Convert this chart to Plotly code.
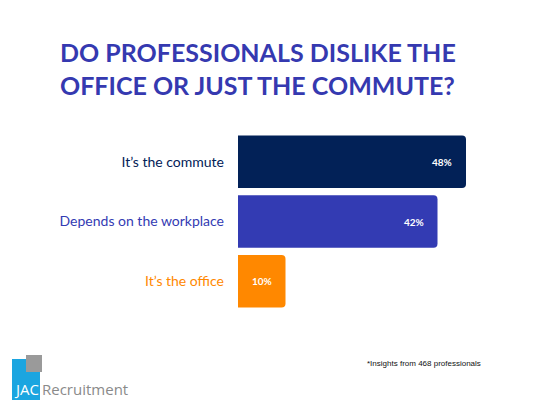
import plotly.graph_objects as go

# dados
categorias = ["It\u2019s the commute", "Depends on the workplace", "It\u2019s the office"]
valores = [48, 42, 10]
cores = ["#022157", "#333BB3", "#FF8800"]
titulo = "DO PROFESSIONALS DISLIKE THE<br>OFFICE OR JUST THE COMMUTE?"
nota = "*Insights from 468 professionals"

W, H = 545, 406
L, R, T, B = 238, 22, 132, 95


def px_x(x):
    # pixel -> coordenada paper (eixo x)
    return (x - L) / (W - L - R)


def px_y(y):
    # pixel -> coordenada paper (eixo y)
    return (H - B - y) / (H - T - B)


rotulos = [f'<span style="color:{c}">{n}</span>' for n, c in zip(categorias, cores)]

fig = go.Figure(go.Bar(
    x=valores,
    y=categorias,
    orientation="h",
    marker=dict(color=cores, cornerradius=4, line=dict(width=0)),
    hoverinfo="skip",
))

# rótulos de valor dentro das barras
for cat, val in zip(categorias, valores):
    fig.add_annotation(
        x=val, y=cat, xref="x", yref="y",
        text=f"<b>{val}%</b>", showarrow=False,
        xanchor="right", xshift=-12,
        font=dict(family="Lato", size=10, color="white"),
    )

fig.update_layout(
    width=W, height=H,
    template="plotly_white",
    paper_bgcolor="white", plot_bgcolor="white",
    margin=dict(l=L, r=R, t=T, b=B),
    bargap=0.12,
    showlegend=False,
    title=dict(
        text=f"<b>{titulo}</b>",
        x=60 / W, xanchor="left", xref="container",
        y=1 - 62 / H, yanchor="top", yref="container",
        font=dict(family="Lato", size=25, color="#3539B0"),
    ),
    xaxis=dict(range=[0, 60], visible=False, fixedrange=True),
    yaxis=dict(
        autorange="reversed",
        tickvals=categorias, ticktext=rotulos,
        showgrid=False, zeroline=False, showline=False,
        ticks="", ticklabelstandoff=13, fixedrange=True,
        tickfont=dict(family="Lato", size=14),
    ),
)

# rodapé
fig.add_annotation(
    x=px_x(483), y=px_y(363), xref="paper", yref="paper",
    text=nota, showarrow=False, xanchor="right", yanchor="middle",
    font=dict(family="Liberation Sans Narrow, Liberation Sans", size=8, color="#111111"),
)

# logo JAC
fig.add_shape(type="rect", xref="paper", yref="paper",
              x0=px_x(12), x1=px_x(40), y0=px_y(359), y1=px_y(400),
              fillcolor="#1BA5E0", line=dict(width=0), layer="above")
fig.add_shape(type="rect", xref="paper", yref="paper",
              x0=px_x(26), x1=px_x(42), y0=px_y(355), y1=px_y(372),
              fillcolor="#9A9A9A", line=dict(width=0), layer="above")
fig.add_annotation(x=px_x(12), y=px_y(401), xref="paper", yref="paper",
                   text="JAC", showarrow=False, xanchor="left", yanchor="bottom",
                   font=dict(family="Open Sans", size=15, color="white"))
fig.add_annotation(x=px_x(40), y=px_y(401), xref="paper", yref="paper",
                   text="Recruitment", showarrow=False, xanchor="left", yanchor="bottom",
                   font=dict(family="Open Sans", size=15, color="#8A8A8A"))

fig.write_html("out.html", config={"displayModeBar": False},
               post_script="document.body.style.margin='0px';")
